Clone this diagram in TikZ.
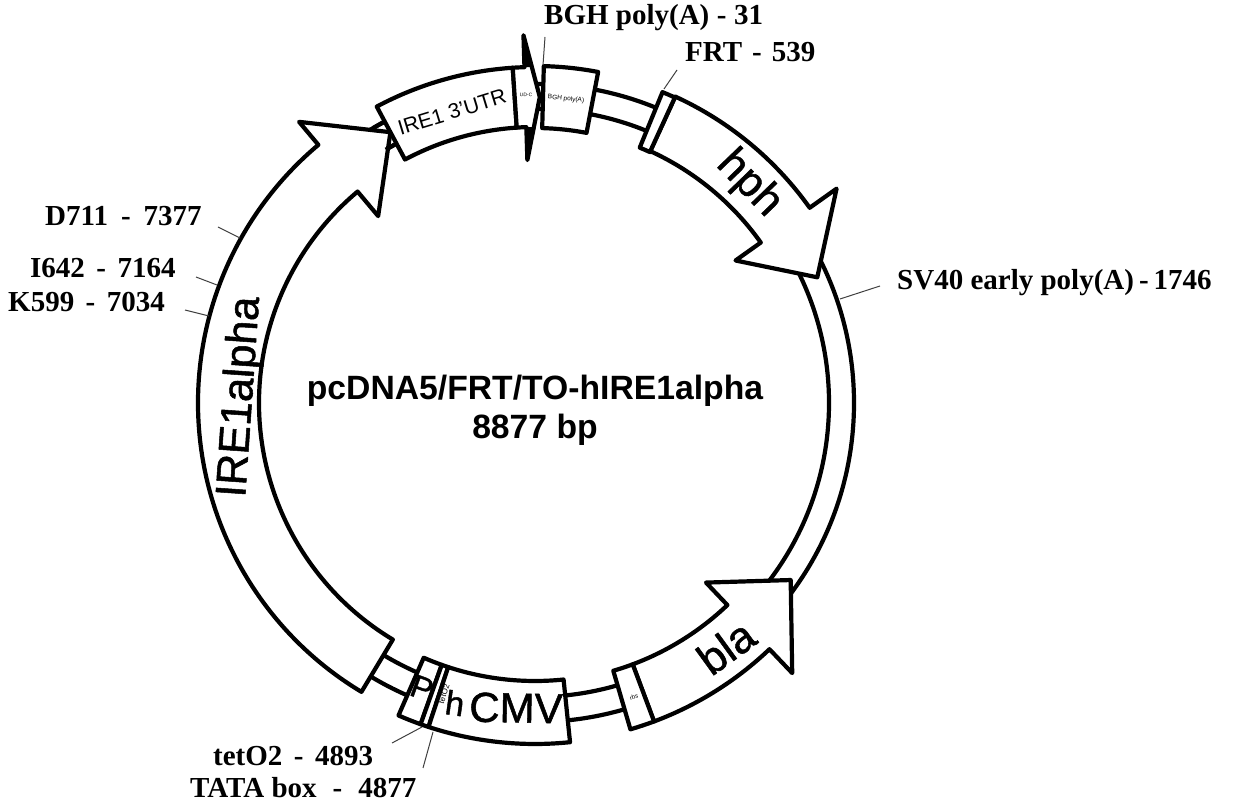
\documentclass[tikz,border=0pt]{standalone}
\usepackage{fontspec}
\setmainfont{Liberation Serif}
\setsansfont{Liberation Sans}
\newfontfamily\fbsans[FakeBold=1.2]{Liberation Sans}
\newcommand{\dsh}[1]{\hspace{#1pt}-\hspace{#1pt}}
\tikzset{
  feat/.style={draw=black,fill=white,line width=4.2pt,line join=round},
  ringline/.style={draw=black,line width=4.2pt},
  leader/.style={draw=black!75,line width=1pt},
  lbl/.style={inner sep=0pt,anchor=base west,font=\fontsize{29}{32}\selectfont\bfseries},
  title/.style={inner sep=0pt,font=\fontsize{33.7}{36}\selectfont\sffamily\bfseries},
  glabel/.style={inner sep=0pt}
}
\newcommand{\segbox}[4]{\draw[feat] (#1:#3pt) arc[start angle=#1,end angle=#2,radius=#3pt] -- (#2:#4pt) arc[start angle=#2,end angle=#1,radius=#4pt] -- cycle;}
% start, end, rin, rout, barb in, barb out, tip angle, tip radius
\newcommand{\arrowseg}[8]{\draw[feat] (#1:#3pt) arc[start angle=#1,end angle=#2,radius=#3pt] -- (#2:#5pt) -- (#7:#8pt) -- (#2:#6pt) -- (#2:#4pt) arc[start angle=#2,end angle=#1,radius=#4pt] -- cycle;}
\begin{document}
\begin{tikzpicture}[x=1pt,y=1pt]
\useasboundingbox (0,0) rectangle (1235,804);
\fill[white] (0,0) rectangle (1235,804);
\begin{scope}[shift={(535,401)}]
  % backbone
  \draw[ringline] (0,0) circle[radius=294pt];
  \draw[ringline] (0,0) circle[radius=319pt];
  % IRE1alpha
  \arrowseg{239}{130}{276}{337}{244}{367}{118.1}{307}
  \draw[ringline] (118.1:319pt) arc[start angle=118.1,end angle=120.5,radius=319pt];
  \draw[ringline] (118.1:294pt) arc[start angle=118.1,end angle=120.5,radius=294pt];
  % hph
  \arrowseg{65.4}{35.4}{277}{337}{246}{370}{24}{309}
  % bla
  \arrowseg{-69.5}{-46.4}{279}{340}{248}{373}{-34.7}{311}
  % boxes
  \segbox{118.1}{93.8}{276}{336}
  \segbox{88.5}{79.2}{275}{337}
  \segbox{67.7}{65.4}{276}{336}
  \segbox{-73.7}{-69.5}{279}{340}
  \segbox{-113.6}{-109.6}{278}{341}
  \segbox{-109.6}{-108.2}{278}{341}
  \segbox{-108.2}{-84.1}{278}{341}
  % small arrow at the top
  \arrowseg{93.8}{91.8}{276}{336}{243}{368}{89.1}{306}
  \fill[black] (91.8:368pt) -- (91.8:336pt) -- (90.6:336pt) -- cycle;
  \fill[black] (91.8:243pt) -- (91.8:276pt) -- (90.4:276pt) -- cycle;
\end{scope}
\begin{scope}[y=-1pt,yshift=804pt]
% texts on features
\node[glabel,rotate=-46,font=\fontsize{44}{44}\selectfont\fbsans] (thph) at (749,184) {hph};
\node[glabel,rotate=36,font=\fontsize{44}{44}\selectfont\fbsans] (tbla) at (726,647) {bla};
\node[glabel,rotate=86,font=\fontsize{43}{43}\selectfont\fbsans] (tire) at (241,397) {IRE1alpha};
\node[glabel,rotate=17,font=\fontsize{21}{21}\selectfont\sffamily] (tutr) at (452,112) {IRE1 3'UTR};
\node[glabel,rotate=-1,font=\fontsize{42}{42}\selectfont\fbsans] (tcmv) at (516,708) {CMV};
\node[glabel,rotate=-8,font=\fontsize{34}{34}\selectfont\fbsans] (th) at (455,703) {h};
\node[glabel,rotate=-20,font=\fontsize{32}{32}\selectfont\fbsans] (tp) at (422,688) {P};
\node[glabel,rotate=72,font=\fontsize{8}{8}\selectfont\sffamily] (ttet) at (444,694) {tetO2};
\node[glabel,rotate=-4,font=\fontsize{5}{5}\selectfont\sffamily] (tmcs) at (526,95) {UD-C};
\node[glabel,rotate=-6,font=\fontsize{6.5}{6.5}\selectfont\sffamily] (tbgh) at (566,99) {BGH poly(A)};
\node[glabel,rotate=15,font=\fontsize{6}{6}\selectfont\sffamily] (trbs) at (634,697) {rbs};
% title
\node[title] (t1) at (535,391) {pcDNA5/FRT/TO-hIRE1alpha};
\node[title] (t2) at (535,430) {8877 bp};
% labels
\node[lbl] (bgh) at (544,25) {BGH poly(A)\dsh{7.5}31};
\node[lbl] (frt) at (685,62) {FRT\dsh{10}539};
\node[lbl] (sv40) at (897,290) {SV40 early poly(A)\dsh{5}1746};
\node[lbl] (d711) at (45,226) {D711\dsh{13}7377};
\node[lbl] (i642) at (30,278) {I642\dsh{11.5}7164};
\node[lbl] (k599) at (8,312) {K599\dsh{11.5}7034};
\node[lbl] (tet) at (213,765) {tetO2\dsh{11.5}4893};
\node[lbl] (tata) at (190,797) {TATA box\dsh{16}4877};
% leaders
\coordinate (cbgh) at (545,37); \coordinate (ebgh) at (543,65);
\coordinate (cfrt) at (677,70); \coordinate (efrt) at (664,89);
\coordinate (csv) at (880,286); \coordinate (esv) at (840,299);
\coordinate (cd) at (218,227); \coordinate (ed) at (240,238);
\coordinate (ci) at (196,277); \coordinate (ei) at (217,285);
\coordinate (ck) at (185,310); \coordinate (ek) at (209,316);
\coordinate (ct) at (392,743); \coordinate (et) at (422,727);
\coordinate (cta) at (423,768); \coordinate (eta) at (433,732);
\draw[leader] (cbgh) -- (ebgh);
\draw[leader] (cfrt) -- (efrt);
\draw[leader] (csv) -- (esv);
\draw[leader] (cd) -- (ed);
\draw[leader] (ci) -- (ei);
\draw[leader] (ck) -- (ek);
\draw[leader] (ct) -- (et);
\draw[leader] (cta) -- (eta);
\end{scope}
\end{tikzpicture}
\end{document}
